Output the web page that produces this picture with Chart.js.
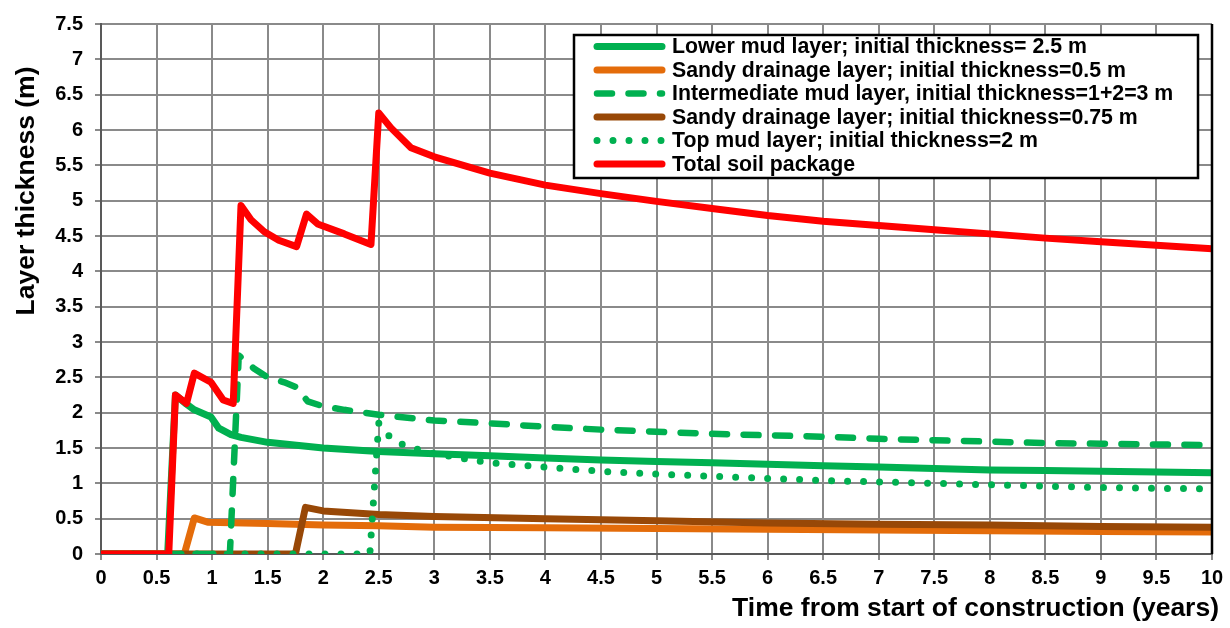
<!DOCTYPE html>
<html>
<head>
<meta charset="utf-8">
<script src="https://cdn.jsdelivr.net/npm/chart.js@4/dist/chart.umd.min.js"></script>
<style>
    html, body { margin: 0; padding: 0; background: #fff; }
</style>
</head>
<body>
<canvas id="layer_thickness" width="1230" height="628"></canvas>
<script>
// time (years) and thickness (m), one pair per layer
const lowerMudTime = [0, 0.6, 0.67, 0.77, 0.84, 0.99, 1.06, 1.17, 1.26, 1.5, 1.76, 2, 2.5, 3, 3.5, 4, 4.5, 5, 5.5, 6, 6.5, 7, 7.5, 8, 8.5, 9, 9.5, 10]
const lowerMudThick = [0, 0, 2.25, 2.12, 2.04, 1.94, 1.78, 1.69, 1.65, 1.58, 1.54, 1.5, 1.45, 1.42, 1.39, 1.36, 1.33, 1.31, 1.29, 1.27, 1.25, 1.23, 1.21, 1.19, 1.18, 1.17, 1.16, 1.15]

const sand05Time = [0, 0.75, 0.84, 0.96, 1.5, 2, 2.5, 3, 4, 5, 6, 7, 8, 9, 10]
const sand05Thick = [0, 0, 0.51, 0.45, 0.43, 0.41, 0.4, 0.38, 0.37, 0.36, 0.35, 0.34, 0.33, 0.32, 0.31]

const midMudTime = [0, 1.16, 1.24, 1.38, 1.5, 1.65, 1.76, 1.86, 2, 2.19, 2.5, 3, 3.5, 4, 4.5, 5, 5.5, 6, 6.5, 7, 7.5, 8, 8.5, 9, 9.5, 10]
const midMudThick = [0, 0, 2.81, 2.62, 2.5, 2.43, 2.36, 2.16, 2.09, 2.04, 1.97, 1.89, 1.85, 1.8, 1.76, 1.73, 1.7, 1.68, 1.66, 1.63, 1.61, 1.59, 1.57, 1.56, 1.55, 1.54]

const sand075Time = [0, 1.75, 1.84, 2, 2.5, 3, 4, 5, 6, 7, 8, 9, 10]
const sand075Thick = [0, 0, 0.66, 0.61, 0.56, 0.53, 0.5, 0.47, 0.44, 0.42, 0.41, 0.39, 0.38]

const topMudTime = [0, 2.42, 2.5, 2.57, 2.68, 2.81, 3, 3.5, 4, 4.5, 5, 5.5, 6, 6.5, 7, 7.5, 8, 8.5, 9, 9.5, 10]
const topMudThick = [0, 0, 1.85, 1.7, 1.57, 1.5, 1.42, 1.29, 1.23, 1.17, 1.13, 1.1, 1.07, 1.04, 1.02, 1, 0.98, 0.96, 0.94, 0.93, 0.92]

const totalTime = [0, 0.61, 0.67, 0.77, 0.84, 0.99, 1.1, 1.19, 1.26, 1.35, 1.47, 1.6, 1.76, 1.85, 1.95, 2.19, 2.43, 2.5, 2.61, 2.79, 3, 3.5, 4, 4.5, 5, 5.5, 6, 6.5, 7, 7.5, 8, 8.5, 9, 9.5, 10]
const totalThick = [0, 0, 2.25, 2.13, 2.56, 2.43, 2.18, 2.13, 4.93, 4.73, 4.56, 4.44, 4.35, 4.81, 4.67, 4.53, 4.38, 6.24, 6.03, 5.75, 5.62, 5.39, 5.22, 5.1, 4.99, 4.89, 4.79, 4.71, 4.65, 4.59, 4.53, 4.47, 4.42, 4.37, 4.32]

const seriesLabels = [
    "Lower mud layer; initial thickness= 2.5 m",
    "Sandy drainage layer; initial thickness=0.5 m",
    "Intermediate mud layer, initial thickness=1+2=3 m",
    "Sandy drainage layer; initial thickness=0.75 m",
    "Top mud layer; initial thickness=2 m",
    "Total soil package"
]

const xTitle = "Time from start of construction (years)"
const yTitle = "Layer thickness (m)"

const FONT = '"Liberation Sans", Arial, sans-serif'
const GREEN = "#00b050"

function toPoints(times, values) {
    return times.map((t, i) => ({x: t, y: values[i]}))
}

function makeSeries(label, times, values, color, dash, width, order) {
    return {
        label: label,
        data: toPoints(times, values),
        borderColor: color,
        backgroundColor: color,
        borderWidth: width,
        borderDash: dash || [],
        borderCapStyle: "round",
        borderJoinStyle: "round",
        pointRadius: 0,
        tension: 0,
        order: order
    }
}

// legend box + axis titles drawn on top of the plot
const extras = {
    id: "extras",
    afterDraw(chart) {
        const ctx = chart.ctx
        const area = chart.chartArea
        ctx.save()

        // right edge of the plot is black
        ctx.strokeStyle = "#000"
        ctx.lineWidth = 2.5
        ctx.beginPath()
        ctx.moveTo(area.right, area.top)
        ctx.lineTo(area.right, area.bottom)
        ctx.stroke()

        ctx.fillStyle = "#000"
        ctx.font = "bold 26.5px " + FONT
        ctx.textAlign = "right"
        ctx.textBaseline = "alphabetic"
        ctx.fillText(xTitle, 1219, 616)

        ctx.save()
        ctx.translate(27, 191)
        ctx.rotate(-Math.PI / 2)
        ctx.textAlign = "center"
        ctx.textBaseline = "middle"
        ctx.fillText(yTitle, 0, 0)
        ctx.restore()

        // legend
        ctx.fillStyle = "#fff"
        ctx.fillRect(574, 35, 624, 143)
        ctx.strokeStyle = "#000"
        ctx.lineWidth = 2.5
        ctx.strokeRect(574, 35, 624, 143)

        ctx.font = "bold 21.3px " + FONT
        ctx.textAlign = "left"
        ctx.textBaseline = "middle"
        chart.data.datasets.forEach((ds, i) => {
            const y = 46.5 + i * 23.5
            ctx.save()
            ctx.strokeStyle = ds.borderColor
            ctx.lineWidth = ds.borderWidth
            ctx.lineCap = "round"
            ctx.setLineDash(ds.borderDash)
            ctx.beginPath()
            ctx.moveTo(597, y)
            ctx.lineTo(662, y)
            ctx.stroke()
            ctx.restore()
            ctx.fillStyle = "#000"
            ctx.fillText(ds.label, 672, y + 1)
        })
        ctx.restore()
    }
}

const datasets = [
    makeSeries(seriesLabels[0], lowerMudTime, lowerMudThick, GREEN, null, 7, 5),
    makeSeries(seriesLabels[1], sand05Time, sand05Thick, "#e46c0a", null, 7, 4),
    makeSeries(seriesLabels[2], midMudTime, midMudThick, GREEN, [15, 16.5], 6.5, 2),
    makeSeries(seriesLabels[3], sand075Time, sand075Thick, "#984807", null, 7, 3),
    makeSeries(seriesLabels[4], topMudTime, topMudThick, GREEN, [0, 16], 7, 1),
    makeSeries(seriesLabels[5], totalTime, totalThick, "#ff0000", null, 7, 0)
]

function tickText(value) {
    return String(Number(value.toFixed(2)))
}

new Chart(document.querySelector("#layer_thickness"), {
    type: "line",
    data: {datasets: datasets},
    options: {
        responsive: false,
        animation: false,
        devicePixelRatio: 1,
        layout: {padding: {left: 0, right: 18, top: 18, bottom: 0}},
        plugins: {
            legend: {display: false},
            tooltip: {enabled: false}
        },
        scales: {
            x: {
                type: "linear",
                min: 0,
                max: 10,
                ticks: {
                    stepSize: 0.5,
                    color: "#000",
                    font: {family: FONT, size: 20, weight: "bold"},
                    padding: 6,
                    maxRotation: 0,
                    autoSkip: false,
                    callback: tickText
                },
                grid: {color: "#8a8a8a", lineWidth: 2, tickLength: 6, tickColor: "#8a8a8a"},
                border: {color: "#595959", width: 2},
                afterFit(scale) { scale.height = 74 }
            },
            y: {
                min: 0,
                max: 7.5,
                ticks: {
                    stepSize: 0.5,
                    color: "#000",
                    font: {family: FONT, size: 20, weight: "bold"},
                    padding: 12,
                    callback: tickText
                },
                grid: {color: "#8a8a8a", lineWidth: 2, tickLength: 6, tickColor: "#8a8a8a"},
                border: {color: "#595959", width: 2},
                afterFit(scale) { scale.width = 101 }
            }
        }
    },
    plugins: [extras]
})
</script>
</body>
</html>
